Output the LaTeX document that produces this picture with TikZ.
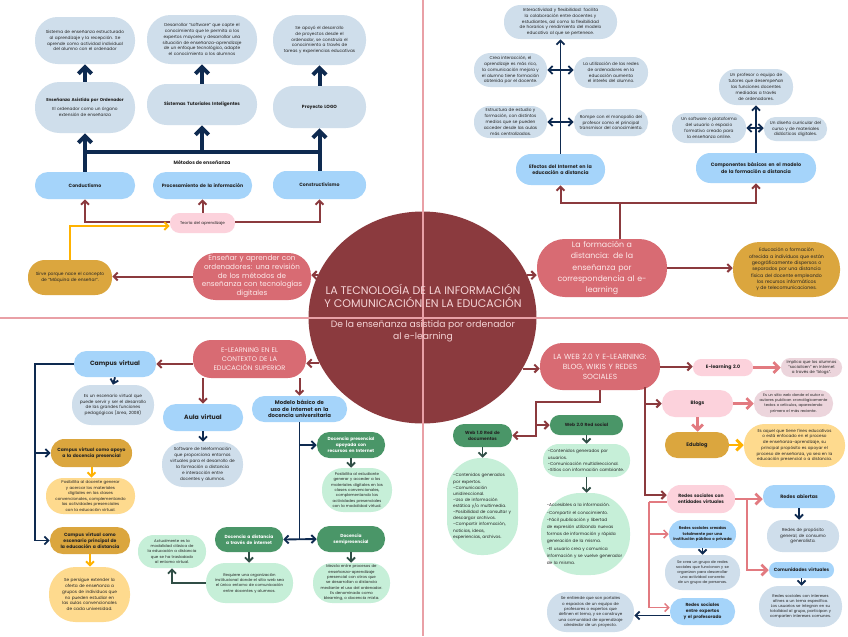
\documentclass[tikz,border=0pt]{standalone}
\usepackage{fontspec}
\setmainfont{Poppins}
\usetikzlibrary{arrows.meta,calc,shapes.geometric}
\hyphenpenalty=10000
\definecolor{cMar}{RGB}{139,58,62}
\definecolor{cSal}{RGB}{216,107,115}
\definecolor{cSalT}{RGB}{253,234,234}
\definecolor{cTitle}{RGB}{245,212,214}
\definecolor{cLB}{RGB}{165,212,250}
\definecolor{cGB}{RGB}{207,222,235}
\definecolor{cNavy}{RGB}{14,42,80}
\definecolor{cPink}{RGB}{252,210,220}
\definecolor{cMauve}{RGB}{236,213,220}
\definecolor{cGold}{RGB}{219,166,62}
\definecolor{cLY}{RGB}{254,218,142}
\definecolor{cOr}{RGB}{255,178,0}
\definecolor{cDG}{RGB}{74,150,104}
\definecolor{cLG}{RGB}{198,239,216}
\definecolor{cDGd}{RGB}{48,78,70}
\definecolor{cPA}{RGB}{226,122,128}
\definecolor{cQuad}{RGB}{233,160,166}
\definecolor{cTxt}{RGB}{35,35,35}
\newcommand{\fsz}[2]{\fontsize{#1}{#2}\selectfont}
\newcommand{\pill}[7]{%
  \pgfmathsetmacro\pillw{(#4-#2)*0.75}%
  \pgfmathsetmacro\pillh{(#5-#3)*0.75}%
  \pgfmathsetmacro\pillr{min(\pillw,\pillh)*0.48}%
  \pgfmathsetmacro\pilltw{\pillw-min(\pillw,\pillh)*0.3-2}%
  \node[minimum width=\pillw pt, minimum height=\pillh pt, rounded corners=\pillr pt, text width=\pilltw pt, #6] (#1) at ({(#2+#4)/2},{(#3+#5)/2}) {#7};}
\tikzset{
  nd/.style={draw=none, align=center, inner sep=0.5pt, text=cTxt, font=\fsz{3.2}{4.4}},
  gb/.style={nd, fill=cGB},
  lb/.style={nd, fill=cLB, font=\fsz{3.5}{4.6}\bfseries},
  sal/.style={nd, fill=cSal, text=cSalT},
  pk/.style={nd, fill=cPink},
  mv/.style={nd, fill=cMauve},
  gd/.style={nd, fill=cGold},
  ly/.style={nd, fill=cLY},
  dg/.style={nd, fill=cDG, text=white, font=\fsz{3.3}{4.5}\bfseries},
  wg/.style={nd, fill=cDG, text=cTxt, font=\fsz{3.3}{4.4}\bfseries},
  lg/.style={nd, fill=cLG, font=\fsz{2.9}{4}},
  navT/.style={draw=cNavy, line width=3pt, -{Straight Barb[length=5pt,width=10pt]}},
  navL/.style={draw=cNavy, line width=3pt},
  nav/.style={draw=cNavy, line width=1.4pt, -{Straight Barb[length=3pt,width=6pt]}},
  navD/.style={draw=cNavy, line width=1.4pt, {Straight Barb[length=3pt,width=6pt]}-{Straight Barb[length=3pt,width=6pt]}},
  navline/.style={draw=cNavy, line width=1.4pt},
  rd/.style={draw=cMar, line width=1.5pt, -{Straight Barb[length=3pt,width=6pt]}},
  rdline/.style={draw=cMar, line width=1.5pt},
  pa/.style={draw=cPA, line width=2pt, -{Straight Barb[length=4pt,width=8pt]}},
  pat/.style={draw=cPA, line width=1.1pt, -{Straight Barb[length=3pt,width=6pt]}},
  paline/.style={draw=cPA, line width=2pt},
  patline/.style={draw=cPA, line width=1.1pt},
  ya/.style={draw=cOr, line width=1.5pt, -{Straight Barb[length=3pt,width=6pt]}},
  yaT/.style={draw=cOr, line width=2.2pt, -{Straight Barb[length=4pt,width=8pt]}},
  ga/.style={draw=cDGd, line width=1.4pt, -{Straight Barb[length=3pt,width=6pt]}},
  quad/.style={draw=cQuad, line width=0.9pt},
  ttl/.style={align=center, inner sep=0pt, text=cTitle},
}
\begin{document}
\begin{tikzpicture}[x=0.75pt, y=-0.75pt]
\fill[white] (0,0) rectangle (848,636);
\useasboundingbox (0,0) rectangle (848,636);

% central ellipse
\node[ellipse, fill=cMar, minimum width=171pt, minimum height=159pt, inner sep=0pt] (main) at (422.5,317.5) {};
\draw[quad] (423,0) -- (423,636);
\draw[quad] (0,318) -- (848,318);
\node[ttl, font=\fsz{8.3}{9.8}] (title) at (423,295.5) {LA TECNOLOGÍA DE LA INFORMACIÓN\\Y COMUNICACIÓN EN LA EDUCACIÓN};
\node[ttl, font=\fsz{6.9}{9}] (subtitle) at (423,331) {De la enseñanza asistida por ordenador\\al e-learning};

% ---------- top-left ----------
\pill{A1}{35}{17}{135}{64}{gb}{Sistema de enseñanza estructurado al aprendizaje y la recepción. Se aprende como actividad individual del alumno con el ordenador}
\pill{A2}{147}{15}{257}{64}{gb}{Desarrollar “software” que capte el conocimiento que le permita a los expertos mayores y desarrollar una situación de enseñanza-aprendizaje de un enfoque tecnológico, adapte el conocimiento a los alumnos}
\pill{A3}{273}{15}{366}{65}{gb}{Se apoyó el desarrollo de proyectos desde el ordenador, se construía el conocimiento a través de tareas y experiencias educativas}
\pill{B1}{35}{82}{135}{133}{gb}{{\bfseries Enseñanza Asistida por Ordenador}\\[2pt] El ordenador como un órgano extensión de enseñanza}
\pill{B2}{147}{84}{257}{125}{gb, font=\fsz{3.4}{4.4}\bfseries}{Sistemas Tutoriales Inteligentes}
\pill{B3}{273}{86}{366}{128}{gb, font=\fsz{3.4}{4.4}\bfseries}{Proyecto LOGO}
\pill{C1}{35}{172}{135}{199}{lb}{Conductismo}
\pill{C2}{153}{172}{252}{199}{lb}{Procesamiento de la información}
\pill{C3}{273}{171}{366}{199}{lb}{Constructivismo}
\node[font=\fsz{3.6}{4.5}\bfseries, text=cTxt, inner sep=0pt] (met) at (202,163) {Métodos de enseñanza};
\pill{TA}{170}{213}{235}{233}{pk, font=\fsz{3}{4}}{Teoría del aprendizaje}
\pill{D1}{28}{260}{112}{295}{gd, font=\fsz{3.3}{4.4}}{Sirve porque nace el concepto de “Máquina de enseñar”.}
\pill{ENS}{193}{253}{311}{300}{sal, font=\fsz{5.4}{6.6}, text width=84pt}{Enseñar y aprender con\\ ordenadores: una revisión\\ de los métodos de\\ enseñanza con tecnologías\\ digitales}

\coordinate (barL) at (85,152);
\coordinate (barR) at (319.5,152);
\draw[navL] (C1.north) -- (barL) -- (barR) -- (C3.north);
\draw[navT] (barL) -- (B1.south);
\draw[navT] (B2.south |- barL) -- (B2.south);
\draw[navT] (barR) -- (B3.south);
\draw[navT] (B1.north) -- (A1.south);
\draw[navT] (B2.north) -- (A2.south);
\draw[navT] (B3.north) -- (A3.south);

\draw[rd] ($(TA.west)+(0,-1.5)$) -| (C1.south);
\draw[rd] (TA.north) -- (C2.south);
\draw[rd] ($(TA.east)+(0,-1.5)$) -| (C3.south);
\draw[ya] (D1.north) |- ($(TA.west)+(0,3)$);
\draw[rd] (ENS.west) -- (D1.east |- ENS.west);
\draw[rd] (main.158) -- (ENS.east |- main.158);

% ---------- top-right ----------
\pill{T1}{504}{5}{617}{39}{gb}{Interactividad y flexibilidad: facilita la colaboración entre docentes y estudiantes, así como la flexibilidad de horarios y rendimiento del modelo educativo al que se pertenece.}
\pill{L1}{474}{53}{547}{87}{gb}{Crea interacción, el aprendizaje es más rico, la comunicación mejora y el alumno tiene formación obtenida por el docente.}
\pill{R1}{574}{57}{648}{88}{gb}{La utilización de las redes de ordenadores en la educación aumenta el interés del alumno.}
\pill{L2}{474}{106}{547}{138}{gb}{Estructura de estudio y formación, con distintos medios que se pueden acceder desde las aulas más centralizadas.}
\pill{R2}{574}{109}{648}{136}{gb}{Rompe con el monopolio del profesor como el principal transmisor del conocimiento.}
\pill{EF}{516}{154}{605}{185}{lb, font=\fsz{3.6}{4.6}\bfseries}{Efectos del Internet en la educación a distancia}
\pill{T2}{719}{69}{793}{105}{gb}{Un profesor o equipo de tutores que desempeñan las funciones docentes mediadas a través de ordenadores.}
\pill{L3}{672}{113}{746}{143}{gb}{Un software o plataforma del usuario o espacio formativo creado para la enseñanza online.}
\pill{R3}{764}{117}{827}{141}{gb}{Un diseño curricular del curso y de materiales didácticos digitales.}
\pill{CB}{696}{153}{816}{183}{lb, font=\fsz{3.6}{4.6}\bfseries}{Componentes básicos en el modelo de la formación a distancia}
\pill{FOR}{537}{239}{667}{297}{sal, font=\fsz{5.9}{8.4}, text width=84pt}{La formación a\\ distancia: de la\\ enseñanza por\\ correspondencia al e-\\ learning}
\pill{E1}{733}{242}{840}{297}{gd, font=\fsz{3.5}{4.7}, text width=64pt}{Educación o formación ofrecida a individuos que están geográficamente dispersos o separados por una distancia física del docente empleando los recursos informáticos y de telecomunicaciones.}

\draw[rd] (main.22) -- (FOR.west |- main.22);
\draw[rd] (FOR.east) -- (E1.west |- FOR.east);
\coordinate (fj) at (620,203);
\draw[rdline] (FOR.north -| fj) -- (fj);
\draw[rd] (fj) -| (EF.south);
\draw[rd] (fj) -| (CB.south);
\draw[nav] (EF.north) -- (T1.south);
\draw[navD] (L1.east) -- (R1.west |- L1.east);
\draw[navD] (L2.east) -- (R2.west |- L2.east);
\draw[nav] (CB.north) -- (T2.south);
\draw[navD] (L3.east) -- (R3.west |- L3.east);

% ---------- bottom-left ----------
\pill{EL}{193}{340}{306}{378}{sal, font=\fsz{5}{6.5}, text width=76pt}{E-LEARNING EN EL\\ CONTEXTO DE LA\\ EDUCACIÓN SUPERIOR}
\pill{CV}{74}{351}{156}{377}{lb, font=\fsz{4.6}{5.5}\bfseries}{Campus virtual}
\pill{CV1}{72}{385}{154}{425}{gb}{Es un escenario virtual que puede servir y ser el desarrollo de las grandes funciones pedagógicas (Area, 2008)}
\pill{AV}{163}{404}{243}{431}{lb, font=\fsz{4.6}{5.5}\bfseries}{Aula virtual}
\pill{AV1}{162}{442}{243}{487}{gb}{Software de teleformación que proporciona entornos virtuales para el desarrollo de la formación a distancia e interacción entre docentes y alumnos.}
\pill{MB}{252}{396}{347}{422}{lb, font=\fsz{4}{4.7}\bfseries, text width=54pt}{Modelo básico de uso de internet en la docencia universitaria}
\pill{G1}{51}{439}{132}{467}{gd, font=\fsz{3.4}{4.6}\bfseries}{Campus virtual como apoyo a la docencia presencial}
\pill{Y1}{46}{478}{135}{514}{ly, font=\fsz{3}{4.2}}{Posibilita al docente generar y acercar los materiales digitales en las clases convencionales, complementando las actividades presenciales con la educación virtual.}
\pill{G2}{50}{527}{130}{554}{gd, font=\fsz{3.4}{4.6}\bfseries}{Campus virtual como escenario principal de la educación a distancia}
\pill{Y2}{49}{567}{130}{622}{ly, text width=50pt}{Se persigue extender la oferta de enseñanza a grupos de individuos que no pueden estudiar en las aulas convencionales de cada universidad.}
\pill{M1}{317}{432}{385}{458}{dg}{Docencia presencial apoyada con recursos en Internet}
\pill{M1d}{322}{468}{392}{512}{lg}{Posibilita al estudiante generar y acceder a los materiales digitales en las clases convencionales, complementando las actividades presenciales con la modalidad virtual.}
\pill{M2}{317}{526}{385}{552}{dg}{Docencia semipresencial}
\pill{M2d}{313}{563}{390}{603}{lg}{Mezcla entre procesos de enseñanza-aprendizaje presencial con otros que se desarrollan a distancia mediante el uso del ordenador. Es denominado como blearning, o docencia mixta.}
\pill{M3}{215}{527}{283}{552}{dg}{Docencia a distancia a través de internet}
\pill{M3d}{206}{563}{293}{603}{lg}{Requiere una organización institucional donde el sitio web sea el único entorno de comunicación entre docentes y alumnos.}
\pill{S}{138}{535}{206}{568}{lg}{Actualmente es la modalidad clásica de la educación a distancia que se ha trasladado al entorno virtual.}

\draw[rd] (main.204) -- (EL.east |- main.204);
\draw[rd] (EL.west |- CV.east) -- (CV.east);
\draw[rd] (EL.south -| AV.north) -- (AV.north);
\draw[rd] (EL.south -| MB.north) -- (MB.north);
\draw[nav] (CV.south) -- (CV1.north);
\coordinate (cvl) at (35,364);
\draw[nav] (CV.west) -- (cvl) |- (G2.west);
\draw[nav] (cvl |- G1.west) -- (G1.west);
\draw[ya] (G1.south) -- (G1.south |- Y1.north);
\draw[ya] (G2.south) -- (G2.south |- Y2.north);
\draw[nav] (AV.south) -- (AV.south |- AV1.north);
\draw[navline] (MB.south) -- (MB.south |- M2.west);
\draw[nav] (MB.south |- M1.west) -- (M1.west);
\draw[navD] (M3.east) -- (M2.west);
\draw[ga] (M1.south) -- (M1.south |- M1d.north);
\draw[ga] (M2.south) -- (M2.south |- M2d.north);
\draw[ga] (M3.south) -- (M3.south |- M3d.north);
\draw[ga] (M3d.west) -| (S.south);

% ---------- bottom-right ----------
\pill{WEB}{540}{343}{660}{390}{sal, font=\fsz{5.6}{7.5}, text width=86pt}{LA WEB 2.0 Y E-LEARNING:\\ BLOG, WIKIS Y REDES\\ SOCIALES}
\pill{W1n}{453}{424}{512}{447}{wg}{Web 1.0 Red de documentos}
\pill{W2n}{550}{415}{623}{435}{wg}{Web 2.0 Red social}
\pill{W1}{447}{458}{518}{555}{lg, align=left, font=\fsz{3.2}{4.6}, text width=44pt}{-Contenidos generados por expertos.\\ -Comunicación unidireccional.\\ -Uso de información estática y/o multimedia.\\ -Posibilidad de consultar y descargar archivos.\\ -Compartir información, noticias, ideas, experiencias, archivos.}
\pill{W2a}{543}{444}{630}{477}{lg, align=left, font=\fsz{3.2}{4.6}, text width=58pt}{-Contenidos generados por usuarios.\\ -Comunicación multidireccional.\\ -Sitios con información cambiante.}
\pill{W2b}{541}{493}{630}{575}{lg, align=left, font=\fsz{3.2}{5.4}, text width=58pt}{-Accesibles a la información.\\ -Compartir el conocimiento.\\ -Fácil publicación y libertad de expresión utilizando nuevas formas de información y rápida generación de la misma.\\ -El usuario crea y comunica información y se vuelve generador de la misma.}
\pill{GB}{547}{592}{634}{632}{gb, font=\fsz{3}{4}}{Se entiende que son portales o espacios de un equipo de profesores o expertos que definen el tema, y se construye una comunidad de aprendizaje alrededor de un proyecto.}
\pill{E2}{693}{359}{753}{376}{pk, font=\fsz{3.5}{4.5}\bfseries}{E-learning 2.0}
\pill{EM}{781}{358}{842}{377}{mv, font=\fsz{3}{4}}{Implica que los alumnos “socialicen” en Internet a través de “blogs”.}
\pill{BL}{662}{390}{733}{417}{pk, font=\fsz{3.6}{4.5}\bfseries}{Blogs}
\pill{BM}{754}{390}{833}{417}{mv, font=\fsz{2.8}{3.8}}{Es un sitio web donde el autor o autores publican cronológicamente textos o artículos, apareciendo primero el más reciente.}
\pill{EB}{665}{432}{729}{458}{gd, font=\fsz{3.8}{4.5}\bfseries}{Edublog}
\pill{EY}{744}{424}{845}{467}{ly, font=\fsz{3.1}{4.3}}{Es aquel que tiene fines educativos o está enfocado en el proceso de enseñanza-aprendizaje, su principal propósito es apoyar el proceso de enseñanza, ya sea en la educación presencial o a distancia.}
\pill{RSE}{667}{485}{735}{513}{pk, font=\fsz{3.4}{4.6}\bfseries}{Redes sociales con entidades virtuales}
\pill{RA}{763}{485}{835}{508}{lb, font=\fsz{3.6}{4.5}\bfseries}{Redes abiertas}
\pill{RAd}{767}{520}{839}{552}{gb}{Redes de propósito general, de consumo generalista.}
\pill{CVT}{769}{562}{834}{578}{lb, font=\fsz{3.4}{4.2}\bfseries, text width=47pt}{Comunidades virtuales}
\pill{CVd}{759}{586}{842}{627}{gb, font=\fsz{2.9}{3.9}}{Redes sociales con intereses afines a un tema específico. Los usuarios se integran en su totalidad al grupo, participan y comparten intereses comunes.}
\pill{RST}{669}{520}{736}{548}{lb, font=\fsz{2.9}{4}\bfseries, text width=44pt}{Redes sociales creadas totalmente por una institución pública o privada}
\pill{RSTd}{665}{555}{740}{590}{gb, font=\fsz{2.8}{3.8}}{Se crea un grupo de redes sociales que funcionan y se organizan para desarrollar una actividad concreta de un grupo de personas.}
\pill{RSP}{670}{598}{735}{625}{lb, font=\fsz{3.3}{4.4}\bfseries}{Redes sociales entre expertos y el profesorado}

\draw[rd] (main.333) -- (WEB.west |- main.333);
\coordinate (wb) at (536,402);
\draw[rd] (WEB.south) |- (wb) |- (W1n.east);
\draw[rd] (wb |- W2n.west) -- (W2n.west);
\draw[ga] (W1n.south) -- (W1n.south |- W1.north);
\draw[ga] (W2n.south) -- (W2n.south |- W2a.north);
\draw[ga] (W2a.south) -- (W2a.south |- W2b.north);
\draw[rd] (WEB.east) -- (E2.west |- WEB.east);
\draw[pa] (E2.east) -- (EM.west |- E2.east);
\coordinate (rv) at (645,387);
\draw[rd] (rv) |- ($(RSE.west)+(0,-4)$);
\draw[rd] (rv |- BL.west) -- (BL.west);
\draw[pa] (BL.east) -- (BM.west |- BL.east);
\draw[pa] (BL.south) -- (BL.south |- EB.north);
\draw[yaT] (EB.east) -- (EY.west |- EB.east);
\coordinate (rj) at (747,499);
\draw[paline] (RSE.east) -- (rj);
\draw[pa] (rj) -- (RA.west |- rj);
\draw[pa] (rj) |- (CVT.west);
\coordinate (pl) at (649,502);
\draw[patline] ($(RSE.west)+(0,3)$) -- (pl);
\draw[pat] (pl) |- (RST.west);
\draw[pat] (pl) |- ($(RSP.west)+(0,-4)$);
\draw[nav] (RA.south) -- (RA.south |- RAd.north);
\draw[nav] (CVT.south) -- (CVT.south |- CVd.north);
\draw[nav] (RST.south) -- (RST.south |- RSTd.north);
\coordinate (rspo) at ($(RSP.west)+(0,4)$);
\draw[nav] (rspo) -- (GB.east |- rspo);
\end{tikzpicture}
\end{document}
